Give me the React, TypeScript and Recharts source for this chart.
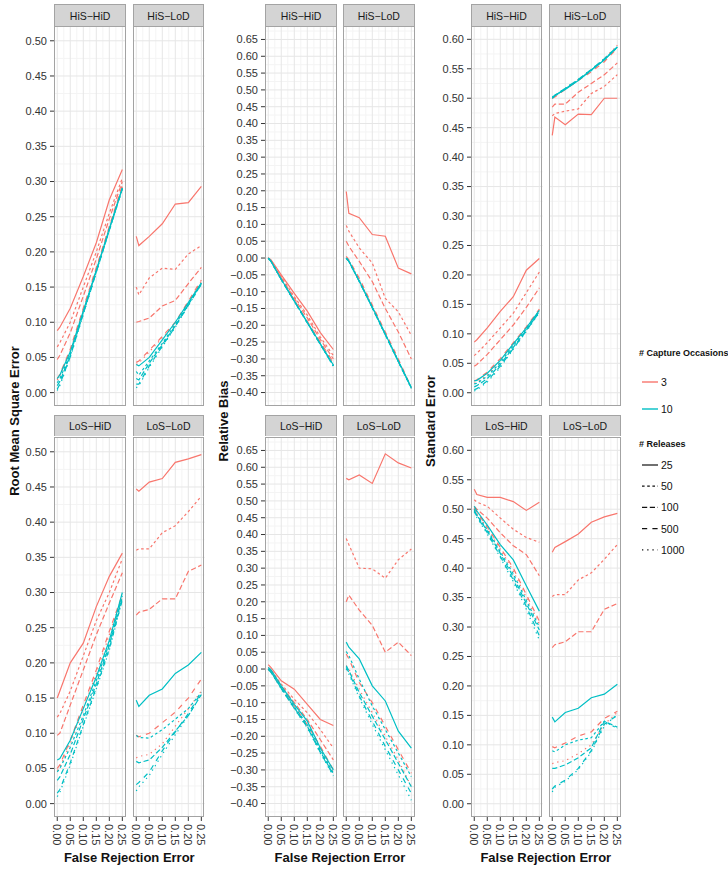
import React from 'react';
import { LineChart, Line, XAxis, YAxis, CartesianGrid } from 'recharts';

// ---------- categories / ticks ----------
const falseRejection = [0, 0.01, 0.05, 0.1, 0.15, 0.2, 0.25];
const releases = ['25', '50', '100', '500', '1000'];
const occasions = ['3', '10'];
const xTicks = [0, 0.05, 0.1, 0.15, 0.2, 0.25];
const xMinor = [0.025, 0.075, 0.125, 0.175, 0.225];
const rmseTicks = [0, 0.05, 0.1, 0.15, 0.2, 0.25, 0.3, 0.35, 0.4, 0.45, 0.5];
const rmseMinor = [0.025, 0.075, 0.125, 0.175, 0.225, 0.275, 0.325, 0.375, 0.425, 0.475];
const biasTicks = [-0.4, -0.35, -0.3, -0.25, -0.2, -0.15, -0.1, -0.05, 0, 0.05, 0.1, 0.15, 0.2, 0.25, 0.3, 0.35, 0.4, 0.45, 0.5, 0.55, 0.6, 0.65];
const biasMinor = [-0.425, -0.375, -0.325, -0.275, -0.225, -0.175, -0.125, -0.075, -0.025, 0.025, 0.075, 0.125, 0.175, 0.225, 0.275, 0.325, 0.375, 0.425, 0.475, 0.525, 0.575, 0.625, 0.675];
const seTicks = [0, 0.05, 0.1, 0.15, 0.2, 0.25, 0.3, 0.35, 0.4, 0.45, 0.5, 0.55, 0.6];
const seMinor = [0.025, 0.075, 0.125, 0.175, 0.225, 0.275, 0.325, 0.375, 0.425, 0.475, 0.525, 0.575];

// ---------- Root Mean Square Error (rows: releases 25, 50, 100, 500, 1000) ----------
const rmseHiSHiD3 = [
  [0.088, 0.093, 0.120, 0.165, 0.213, 0.274, 0.317],
  [0.065, 0.071, 0.100, 0.150, 0.200, 0.255, 0.305],
  [0.047, 0.053, 0.085, 0.137, 0.190, 0.247, 0.300],
  [0.020, 0.026, 0.062, 0.120, 0.178, 0.236, 0.295],
  [0.018, 0.024, 0.060, 0.118, 0.176, 0.235, 0.293],
];
const rmseHiSHiD10 = [
  [0.020, 0.025, 0.058, 0.116, 0.174, 0.233, 0.291],
  [0.014, 0.020, 0.055, 0.114, 0.173, 0.232, 0.290],
  [0.010, 0.016, 0.053, 0.113, 0.172, 0.231, 0.290],
  [0.005, 0.012, 0.051, 0.112, 0.171, 0.231, 0.290],
  [0.003, 0.010, 0.050, 0.111, 0.171, 0.230, 0.289],
];
const rmseHiSLoD3 = [
  [0.222, 0.209, 0.222, 0.240, 0.268, 0.270, 0.293],
  [0.150, 0.139, 0.163, 0.177, 0.175, 0.197, 0.209],
  [0.100, 0.101, 0.106, 0.123, 0.131, 0.155, 0.178],
  [0.043, 0.045, 0.060, 0.080, 0.100, 0.130, 0.160],
  [0.040, 0.042, 0.058, 0.078, 0.098, 0.128, 0.158],
];
const rmseHiSLoD10 = [
  [0.040, 0.038, 0.050, 0.075, 0.100, 0.128, 0.156],
  [0.030, 0.025, 0.045, 0.070, 0.097, 0.126, 0.155],
  [0.020, 0.018, 0.042, 0.068, 0.095, 0.125, 0.155],
  [0.012, 0.012, 0.038, 0.066, 0.094, 0.124, 0.154],
  [0.007, 0.010, 0.036, 0.065, 0.093, 0.124, 0.154],
];
const rmseLoSHiD3 = [
  [0.150, 0.160, 0.200, 0.228, 0.280, 0.323, 0.356],
  [0.123, 0.128, 0.160, 0.210, 0.260, 0.300, 0.348],
  [0.097, 0.100, 0.140, 0.190, 0.240, 0.285, 0.328],
  [0.050, 0.055, 0.090, 0.140, 0.190, 0.245, 0.297],
  [0.047, 0.052, 0.085, 0.135, 0.185, 0.240, 0.295],
];
const rmseLoSHiD10 = [
  [0.062, 0.064, 0.090, 0.135, 0.180, 0.232, 0.300],
  [0.045, 0.050, 0.080, 0.125, 0.175, 0.228, 0.295],
  [0.033, 0.038, 0.070, 0.120, 0.170, 0.225, 0.293],
  [0.015, 0.020, 0.058, 0.112, 0.165, 0.220, 0.290],
  [0.010, 0.016, 0.055, 0.110, 0.163, 0.218, 0.290],
];
const rmseLoSLoD3 = [
  [0.447, 0.444, 0.457, 0.462, 0.485, 0.490, 0.496],
  [0.360, 0.362, 0.362, 0.385, 0.395, 0.415, 0.437],
  [0.268, 0.272, 0.276, 0.291, 0.291, 0.330, 0.339],
  [0.097, 0.095, 0.100, 0.115, 0.130, 0.150, 0.177],
  [0.065, 0.067, 0.070, 0.085, 0.110, 0.135, 0.160],
];
const rmseLoSLoD10 = [
  [0.147, 0.138, 0.154, 0.163, 0.185, 0.197, 0.215],
  [0.097, 0.094, 0.093, 0.105, 0.120, 0.135, 0.158],
  [0.060, 0.058, 0.062, 0.080, 0.103, 0.125, 0.155],
  [0.027, 0.030, 0.045, 0.075, 0.102, 0.128, 0.158],
  [0.018, 0.024, 0.040, 0.070, 0.098, 0.125, 0.155],
];

// ---------- Relative Bias ----------
const biasHiSHiD3 = [
  [0, -0.005, -0.050, -0.105, -0.158, -0.222, -0.272],
  [0, -0.006, -0.055, -0.115, -0.170, -0.235, -0.290],
  [0, -0.007, -0.058, -0.120, -0.178, -0.242, -0.300],
  [0, -0.008, -0.062, -0.125, -0.188, -0.250, -0.310],
  [0, -0.008, -0.063, -0.126, -0.190, -0.252, -0.312],
];
const biasHiSHiD10 = [
  [0, -0.009, -0.063, -0.127, -0.191, -0.255, -0.318],
  [0, -0.009, -0.064, -0.128, -0.192, -0.256, -0.320],
  [0, -0.009, -0.064, -0.128, -0.192, -0.256, -0.320],
  [0, -0.009, -0.064, -0.129, -0.193, -0.257, -0.321],
  [0, -0.009, -0.064, -0.129, -0.193, -0.257, -0.322],
];
const biasHiSLoD3 = [
  [0.198, 0.133, 0.120, 0.070, 0.065, -0.030, -0.047],
  [0.097, 0.080, 0.030, -0.015, -0.120, -0.160, -0.230],
  [0.050, 0.035, -0.010, -0.070, -0.150, -0.220, -0.300],
  [0.005, -0.005, -0.060, -0.140, -0.220, -0.300, -0.385],
  [0.000, -0.008, -0.065, -0.143, -0.225, -0.305, -0.387],
];
const biasHiSLoD10 = [
  [0.000, -0.009, -0.068, -0.146, -0.226, -0.306, -0.385],
  [0.000, -0.009, -0.069, -0.147, -0.227, -0.307, -0.386],
  [0.000, -0.010, -0.069, -0.148, -0.228, -0.308, -0.387],
  [0.000, -0.010, -0.070, -0.148, -0.228, -0.308, -0.387],
  [0.000, -0.010, -0.070, -0.149, -0.229, -0.309, -0.388],
];
const biasLoSHiD3 = [
  [0.013, 0.005, -0.035, -0.060, -0.105, -0.150, -0.168],
  [0.005, -0.002, -0.045, -0.090, -0.130, -0.180, -0.235],
  [0.000, -0.007, -0.050, -0.100, -0.150, -0.210, -0.270],
  [0.000, -0.008, -0.055, -0.110, -0.165, -0.230, -0.300],
  [0.000, -0.009, -0.057, -0.115, -0.170, -0.235, -0.310],
];
const biasLoSHiD10 = [
  [0.005, -0.002, -0.050, -0.105, -0.155, -0.235, -0.300],
  [0.000, -0.008, -0.055, -0.112, -0.165, -0.240, -0.310],
  [0.000, -0.008, -0.057, -0.115, -0.170, -0.245, -0.313],
  [0.000, -0.009, -0.058, -0.117, -0.173, -0.248, -0.316],
  [0.000, -0.009, -0.059, -0.118, -0.175, -0.250, -0.318],
];
const biasLoSLoD3 = [
  [0.567, 0.563, 0.577, 0.552, 0.640, 0.613, 0.598],
  [0.388, 0.370, 0.300, 0.298, 0.270, 0.325, 0.357],
  [0.200, 0.220, 0.175, 0.130, 0.050, 0.080, 0.040],
  [0.045, 0.030, -0.040, -0.100, -0.170, -0.240, -0.310],
  [0.010, 0.000, -0.060, -0.130, -0.200, -0.270, -0.350],
];
const biasLoSLoD10 = [
  [0.080, 0.065, 0.030, -0.050, -0.095, -0.185, -0.235],
  [0.052, 0.040, -0.030, -0.110, -0.180, -0.250, -0.320],
  [0.010, -0.005, -0.070, -0.140, -0.210, -0.280, -0.350],
  [0.005, -0.010, -0.080, -0.155, -0.230, -0.300, -0.370],
  [0.000, -0.015, -0.085, -0.165, -0.240, -0.315, -0.390],
];

// ---------- Standard Error ----------
const seHiSHiD3 = [
  [0.086, 0.090, 0.110, 0.138, 0.163, 0.208, 0.228],
  [0.063, 0.067, 0.085, 0.110, 0.135, 0.170, 0.205],
  [0.045, 0.048, 0.065, 0.090, 0.115, 0.145, 0.178],
  [0.020, 0.022, 0.035, 0.058, 0.085, 0.112, 0.142],
  [0.016, 0.018, 0.030, 0.054, 0.082, 0.110, 0.140],
];
const seHiSHiD10 = [
  [0.020, 0.021, 0.033, 0.055, 0.083, 0.110, 0.140],
  [0.015, 0.016, 0.028, 0.051, 0.080, 0.108, 0.139],
  [0.010, 0.012, 0.024, 0.048, 0.077, 0.106, 0.138],
  [0.005, 0.007, 0.020, 0.045, 0.075, 0.105, 0.137],
  [0.003, 0.005, 0.018, 0.043, 0.074, 0.104, 0.136],
];
const seHiSLoD3 = [
  [0.437, 0.468, 0.455, 0.473, 0.472, 0.500, 0.500],
  [0.470, 0.474, 0.478, 0.482, 0.508, 0.520, 0.540],
  [0.485, 0.490, 0.490, 0.510, 0.525, 0.540, 0.560],
  [0.500, 0.502, 0.515, 0.530, 0.545, 0.562, 0.585],
  [0.500, 0.503, 0.516, 0.532, 0.548, 0.567, 0.590],
];
const seHiSLoD10 = [
  [0.500, 0.505, 0.515, 0.530, 0.548, 0.565, 0.587],
  [0.500, 0.504, 0.516, 0.531, 0.547, 0.566, 0.586],
  [0.501, 0.504, 0.516, 0.531, 0.548, 0.566, 0.587],
  [0.501, 0.505, 0.517, 0.532, 0.549, 0.567, 0.588],
  [0.502, 0.505, 0.517, 0.532, 0.549, 0.567, 0.588],
];
const seLoSHiD3 = [
  [0.534, 0.525, 0.520, 0.520, 0.513, 0.498, 0.512],
  [0.516, 0.512, 0.505, 0.485, 0.466, 0.452, 0.444],
  [0.505, 0.500, 0.485, 0.460, 0.438, 0.423, 0.387],
  [0.502, 0.495, 0.470, 0.435, 0.400, 0.355, 0.310],
  [0.500, 0.493, 0.468, 0.432, 0.395, 0.350, 0.305],
];
const seLoSHiD10 = [
  [0.505, 0.497, 0.473, 0.440, 0.414, 0.370, 0.327],
  [0.500, 0.490, 0.465, 0.428, 0.390, 0.345, 0.300],
  [0.498, 0.490, 0.463, 0.425, 0.385, 0.340, 0.295],
  [0.497, 0.488, 0.460, 0.420, 0.380, 0.335, 0.285],
  [0.495, 0.486, 0.458, 0.418, 0.377, 0.330, 0.278],
];
const seLoSLoD3 = [
  [0.427, 0.435, 0.445, 0.458, 0.478, 0.487, 0.493],
  [0.352, 0.355, 0.355, 0.380, 0.392, 0.415, 0.440],
  [0.265, 0.270, 0.275, 0.292, 0.292, 0.330, 0.340],
  [0.097, 0.095, 0.103, 0.115, 0.122, 0.145, 0.157],
  [0.068, 0.070, 0.073, 0.085, 0.100, 0.135, 0.155],
];
const seLoSLoD10 = [
  [0.147, 0.139, 0.155, 0.162, 0.180, 0.186, 0.203],
  [0.090, 0.088, 0.100, 0.108, 0.112, 0.140, 0.128],
  [0.060, 0.060, 0.066, 0.078, 0.095, 0.140, 0.130],
  [0.025, 0.030, 0.040, 0.060, 0.090, 0.135, 0.150],
  [0.020, 0.028, 0.038, 0.058, 0.088, 0.132, 0.152],
];

// ---------- styling ----------
const FONT = '"Liberation Sans", Arial, Helvetica, sans-serif';
const RED = '#F8766D';
const TEAL = '#00BFC4';
const DASHES: (string | undefined)[] = [undefined, '2.6 2.6', '5.2 2.6', '5.2 5.2', '1.3 3.9'];
const X_DOMAIN: [number, number] = [-0.0125, 0.2625];
const PANEL_W = 71.6;
const PANEL_H = 380;
const STRIP_H = 21.7;
const ROW_TOPS = [26, 436.5];
const Y_AXIS_W = 44;
const X_AXIS_H = 34;
const PAD = 10;

const fmt = (v: number) => {
  const s = Math.abs(v).toFixed(2);
  return v < -1e-9 ? '\u2212' + s : s;
};

const XTick = (props: any) => {
  const { x, y, payload } = props;
  return (
    <text
      x={x}
      y={y}
      transform={`rotate(90, ${x}, ${y})`}
      textAnchor="start"
      dominantBaseline="central"
      fontSize={11}
      fill="#333"
      fontFamily={FONT}
    >
      {fmt(payload.value)}
    </text>
  );
};

type PanelProps = {
  left: number;
  top: number;
  label: string;
  showY: boolean;
  showX: boolean;
  domain: [number, number];
  ticks: number[];
  minor: number[];
  red: number[][];
  teal: number[][];
};

function Panel({ left, top, label, showY, showX, domain, ticks, minor, red, teal }: PanelProps) {
  const data = falseRejection.map((x, i) => {
    const row: any = { x };
    releases.forEach((_, k) => {
      row['o3_' + k] = red[k][i];
      row['o10_' + k] = teal[k][i];
    });
    return row;
  });
  const yw = showY ? Y_AXIS_W : 0;
  const chartLeft = left - yw - PAD;
  const w = PANEL_W + yw + 2 * PAD;
  const h = PANEL_H + (showX ? X_AXIS_H : 0);
  return (
    <>
      <div
        style={{
          position: 'absolute',
          left,
          top: top - STRIP_H,
          width: PANEL_W,
          height: STRIP_H,
          boxSizing: 'border-box',
          background: '#D4D4D4',
          border: '1px solid #A3A3A3',
          borderBottom: 'none',
          display: 'flex',
          alignItems: 'center',
          justifyContent: 'center',
          fontSize: 10.5,
          color: '#1A1A1A',
          fontFamily: FONT,
        }}
      >
        {label}
      </div>
      <div style={{ position: 'absolute', left: chartLeft, top }}>
        <LineChart width={w} height={h} data={data} margin={{ top: 0, right: PAD, bottom: 0, left: PAD }}>
          <CartesianGrid horizontalValues={minor} verticalValues={xMinor} stroke="#F4F4F4" strokeWidth={1} />
          <CartesianGrid horizontalValues={ticks} verticalValues={xTicks} stroke="#E6E6E6" strokeWidth={1} />
          <XAxis
            dataKey="x"
            type="number"
            domain={X_DOMAIN}
            ticks={xTicks}
            interval={0}
            allowDataOverflow
            hide={!showX}
            height={X_AXIS_H}
            axisLine={false}
            tickLine={{ stroke: '#333' }}
            tickSize={4}
            tickMargin={3}
            tick={<XTick />}
          />
          <YAxis
            type="number"
            domain={domain}
            ticks={ticks}
            interval={0}
            allowDataOverflow
            hide={!showY}
            width={Y_AXIS_W}
            axisLine={false}
            tickLine={{ stroke: '#333' }}
            tickSize={4}
            tickMargin={3}
            tick={{ fontSize: 11, fill: '#333', fontFamily: FONT }}
            tickFormatter={fmt}
          />
          {releases.map((r, k) => (
            <Line
              key={'o3_' + r}
              dataKey={'o3_' + k}
              type="linear"
              stroke={RED}
              strokeWidth={1.2}
              strokeDasharray={DASHES[k]}
              dot={false}
              activeDot={false}
              isAnimationActive={false}
            />
          ))}
          {releases.map((r, k) => (
            <Line
              key={'o10_' + r}
              dataKey={'o10_' + k}
              type="linear"
              stroke={TEAL}
              strokeWidth={1.2}
              strokeDasharray={DASHES[k]}
              dot={false}
              activeDot={false}
              isAnimationActive={false}
            />
          ))}
        </LineChart>
      </div>
      <div
        style={{
          position: 'absolute',
          left,
          top,
          width: PANEL_W,
          height: PANEL_H,
          boxSizing: 'border-box',
          border: '1px solid #A3A3A3',
          pointerEvents: 'none',
        }}
      />
    </>
  );
}

const columns = [
  {
    title: 'Root Mean Square Error',
    titleX: 15,
    lefts: [54.3, 132.7],
    domain: [-0.019, 0.521] as [number, number],
    ticks: rmseTicks,
    minor: rmseMinor,
    rows: [
      [{ label: 'HiS\u2212HiD', red: rmseHiSHiD3, teal: rmseHiSHiD10 }, { label: 'HiS\u2212LoD', red: rmseHiSLoD3, teal: rmseHiSLoD10 }],
      [{ label: 'LoS\u2212HiD', red: rmseLoSHiD3, teal: rmseLoSHiD10 }, { label: 'LoS\u2212LoD', red: rmseLoSLoD3, teal: rmseLoSLoD10 }],
    ],
  },
  {
    title: 'Relative Bias',
    titleX: 224,
    lefts: [265.3, 343],
    domain: [-0.44, 0.69] as [number, number],
    ticks: biasTicks,
    minor: biasMinor,
    rows: [
      [{ label: 'HiS\u2212HiD', red: biasHiSHiD3, teal: biasHiSHiD10 }, { label: 'HiS\u2212LoD', red: biasHiSLoD3, teal: biasHiSLoD10 }],
      [{ label: 'LoS\u2212HiD', red: biasLoSHiD3, teal: biasLoSHiD10 }, { label: 'LoS\u2212LoD', red: biasLoSLoD3, teal: biasLoSLoD10 }],
    ],
  },
  {
    title: 'Standard Error',
    titleX: 431,
    lefts: [470.7, 549.3],
    domain: [-0.0225, 0.6226] as [number, number],
    ticks: seTicks,
    minor: seMinor,
    rows: [
      [{ label: 'HiS\u2212HiD', red: seHiSHiD3, teal: seHiSHiD10 }, { label: 'HiS\u2212LoD', red: seHiSLoD3, teal: seHiSLoD10 }],
      [{ label: 'LoS\u2212HiD', red: seLoSHiD3, teal: seLoSHiD10 }, { label: 'LoS\u2212LoD', red: seLoSLoD3, teal: seLoSLoD10 }],
    ],
  },
];

function LegendBox() {
  const lx = 642;
  const items1 = occasions.map((o, i) => ({ label: o, color: i === 0 ? RED : TEAL, y: 382 + i * 27 }));
  const items2 = releases.map((r, i) => ({ label: r, dash: DASHES[i], y: 465 + i * 21.2 }));
  return (
    <svg style={{ position: 'absolute', left: 0, top: 0 }} width={728} height={873} pointerEvents="none">
      <text x={639} y={353} dominantBaseline="central" fontSize={9} fontWeight="bold" fill="#111" fontFamily={FONT}>
        # Capture Occasions
      </text>
      {items1.map((it) => (
        <g key={it.label}>
          <line x1={lx} x2={lx + 16} y1={it.y} y2={it.y} stroke={it.color} strokeWidth={1.4} />
          <text x={661} y={it.y} dominantBaseline="central" fontSize={10.5} fill="#111" fontFamily={FONT}>
            {it.label}
          </text>
        </g>
      ))}
      <text x={639} y={444} dominantBaseline="central" fontSize={9} fontWeight="bold" fill="#111" fontFamily={FONT}>
        # Releases
      </text>
      {items2.map((it) => (
        <g key={it.label}>
          <line x1={lx} x2={lx + 16} y1={it.y} y2={it.y} stroke="#111" strokeWidth={1.2} strokeDasharray={it.dash} />
          <text x={661} y={it.y} dominantBaseline="central" fontSize={10.5} fill="#111" fontFamily={FONT}>
            {it.label}
          </text>
        </g>
      ))}
    </svg>
  );
}

export default function App() {
  return (
    <div
      style={{
        position: 'absolute',
        left: 0,
        top: 0,
        width: 728,
        height: 873,
        background: '#fff',
        fontFamily: FONT,
        overflow: 'hidden',
      }}
    >
      {columns.map((col, ci) => (
        <React.Fragment key={col.title}>
          {col.rows.map((row, ri) =>
            row.map((p, pi) => (
              <Panel
                key={ci + '-' + ri + '-' + pi}
                left={col.lefts[pi]}
                top={ROW_TOPS[ri]}
                label={p.label}
                showY={pi === 0}
                showX={ri === 1}
                domain={col.domain}
                ticks={col.ticks}
                minor={col.minor}
                red={p.red}
                teal={p.teal}
              />
            ))
          )}
          <div
            style={{
              position: 'absolute',
              left: col.titleX - 200,
              top: 421 - 10,
              width: 400,
              height: 20,
              lineHeight: '20px',
              textAlign: 'center',
              transform: 'rotate(-90deg)',
              fontSize: 13,
              fontWeight: 'bold',
              color: '#111',
            }}
          >
            {col.title}
          </div>
          <div
            style={{
              position: 'absolute',
              left: (col.lefts[0] + col.lefts[1] + PANEL_W) / 2 - 100,
              top: 848,
              width: 200,
              height: 20,
              lineHeight: '20px',
              textAlign: 'center',
              fontSize: 13,
              fontWeight: 'bold',
              color: '#111',
            }}
          >
            False Rejection Error
          </div>
        </React.Fragment>
      ))}
      <LegendBox />
    </div>
  );
}
